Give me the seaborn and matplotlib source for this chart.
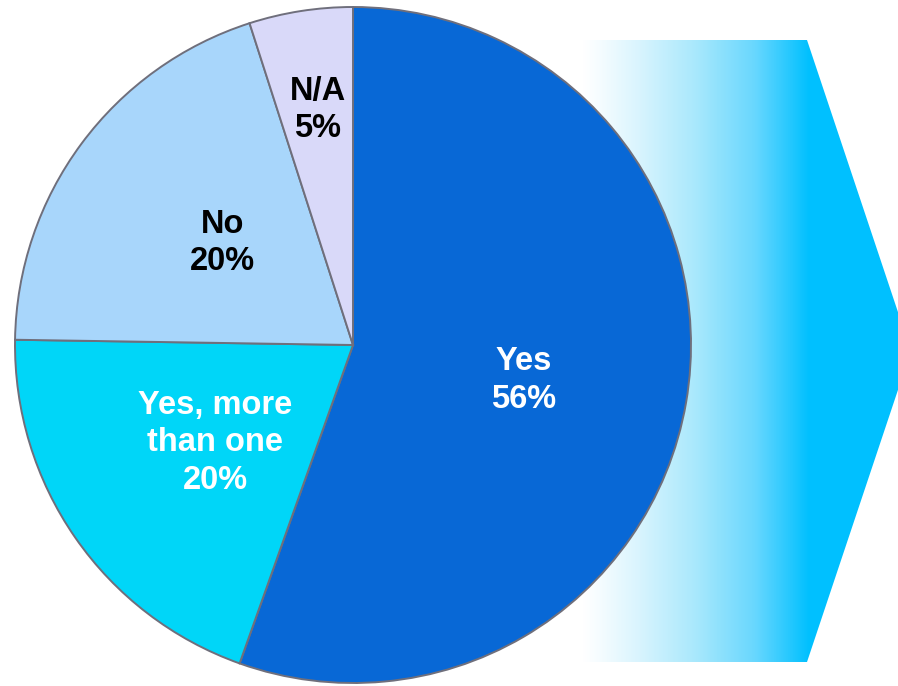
import numpy as np
import matplotlib
matplotlib.use("Agg")
import matplotlib.pyplot as plt
import seaborn as sns
from matplotlib.colors import LinearSegmentedColormap
from matplotlib.patches import Polygon

sns.set_theme(style="white")
plt.rcParams['font.family'] = ['Liberation Sans', 'DejaVu Sans']

# Survey answers
categories = ["Yes", "Yes, more\nthan one", "No", "N/A"]
shares = [56, 20, 20, 5]
value_labels = ["56%", "20%", "20%", "5%"]
slice_colors = ["#0868d6", "#00d6f8", "#a8d6fb", "#d9d9f9"]
text_colors = ["white", "white", "black", "black"]
label_dist = [0.515, 0.50, 0.49, 0.703]
label_turn = [-2.0, 0.6, -1.4, -0.4]

W, H = 898, 686
fig = plt.figure(figsize=(W / 100, H / 100), dpi=100)
ax = fig.add_axes([0, 0, 1, 1])


def py(y):
    return H - y


# Background chevron with a white-to-cyan horizontal gradient
arrow_pts = [(583, py(40)), (807, py(40)), (911, py(351)),
             (807, py(662)), (583, py(662))]
arrow = Polygon(arrow_pts, closed=True, facecolor="none", edgecolor="none")
ax.add_patch(arrow)
grad_cmap = LinearSegmentedColormap.from_list(
    "fade",
    [(0.0, "#ffffff"), (0.08, "#f4fcff"), (0.25, "#d8f4fe"),
     (0.50, "#a8e8fc"), (0.76, "#68d7fe"), (1.0, "#00c0ff")])
grad = np.linspace(0, 1, 400).reshape(1, -1)
img = ax.imshow(grad, cmap=grad_cmap, aspect="auto",
                extent=(583, 810, py(662), py(40)), zorder=1)
img.set_clip_path(arrow)
ax.add_patch(Polygon(arrow_pts, closed=True, zorder=0.9, edgecolor="none",
                     facecolor="#00c0ff"))
ax.add_patch(Polygon([(580, py(38)), (810, py(38)), (810, py(664)),
                      (580, py(664))], closed=True, zorder=0.95,
                     facecolor="white", edgecolor="none"))

# Pie chart
cx, cy, r = 353, py(345), 338
wedges, _ = ax.pie(shares, colors=slice_colors, startangle=90,
                   counterclock=False, center=(cx, cy), radius=r,
                   wedgeprops=dict(edgecolor="#6f6f7c", linewidth=1.4),
                   frame=True)
for w in wedges:
    w.set_zorder(3)

for w, cat, val, tc, d, t in zip(wedges, categories, value_labels,
                                 text_colors, label_dist, label_turn):
    mid = np.deg2rad((w.theta1 + w.theta2) / 2 + t)
    x = cx + d * r * np.cos(mid)
    y = cy + d * r * np.sin(mid)
    ax.text(x, y, f"{cat}\n{val}", ha="center", va="center",
            color=tc, fontsize=23.5, fontweight="bold",
            linespacing=1.27, zorder=5)

ax.set_xlim(0, W)
ax.set_ylim(0, H)
ax.set_aspect("equal")
ax.axis("off")

fig.savefig("out.png", dpi=100)
